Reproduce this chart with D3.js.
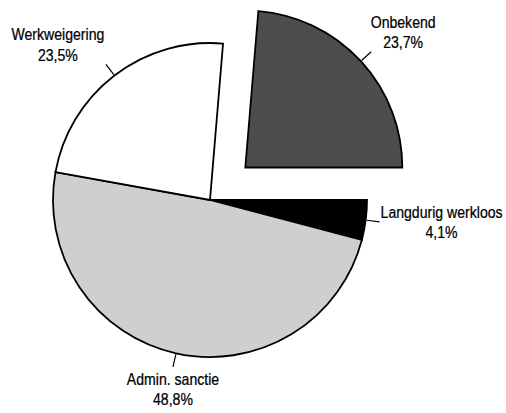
<!DOCTYPE html>
<html>
<head>
<meta charset="utf-8">
<script src="https://cdn.jsdelivr.net/npm/d3@7"></script>
<style>
  html, body { margin: 0; padding: 0; background: #fff; }
  svg { display: block; }
  text { font-family: "Liberation Sans", Arial, sans-serif; font-size: 16px; fill: #000; stroke: #000; stroke-width: 0.25; }
</style>
</head>
<body>
<svg id="chart" width="506" height="413"></svg>
<script>
// ---- data ----
const categories = ["Langdurig werkloos", "Admin. sanctie", "Werkweigering", "Onbekend"];
const values = [4.1, 48.8, 23.5, 23.7];
const valueLabels = ["4,1%", "48,8%", "23,5%", "23,7%"];
const exploded = [false, false, false, true];

// ---- styles / layout ----
const fills = ["#000000", "#cfcfcf", "#ffffff", "#4d4d4d"];
const labelOffsets = [[62, -4], [0, 18], [-48, -24], [32, -24]]; // block centre relative to tick end
const cx = 210, cy = 200, r = 157, explodeDist = 48, tickLen = 13;
const textSqueeze = 0.88;

const svg = d3.select("#chart");
const data = categories.map((c, i) => ({ name: c, value: values[i], label: valueLabels[i], explode: exploded[i], fill: fills[i], off: labelOffsets[i] }));

const pie = d3.pie().sort(null).value(d => d.value)
  .startAngle(Math.PI / 2).endAngle(Math.PI / 2 + 2 * Math.PI);
const arcs = pie(data);
const arc = d3.arc().innerRadius(0).outerRadius(r);

const g = svg.append("g").attr("transform", `translate(${cx},${cy})`);

const slices = g.selectAll("g.slice").data(arcs).join("g")
  .attr("class", "slice")
  .attr("transform", d => {
    if (!d.data.explode) return null;
    const a = (d.startAngle + d.endAngle) / 2;
    return `translate(${explodeDist * Math.sin(a)},${-explodeDist * Math.cos(a)})`;
  });

slices.append("path")
  .attr("d", arc)
  .attr("fill", d => d.data.fill)
  .attr("stroke", "#000")
  .attr("stroke-width", 1.8)
  .attr("stroke-linejoin", "miter");

slices.each(function(d) {
  const a = (d.startAngle + d.endAngle) / 2;
  const s = Math.sin(a), c = -Math.cos(a);
  const sel = d3.select(this);
  const x1 = (r + 1) * s, y1 = (r + 1) * c;
  const x2 = (r + 1 + tickLen) * s, y2 = (r + 1 + tickLen) * c;
  sel.append("line")
    .attr("x1", x1).attr("y1", y1).attr("x2", x2).attr("y2", y2)
    .attr("stroke", "#000").attr("stroke-width", 1.2);
  const lg = sel.append("g")
    .attr("transform", `translate(${x2 + d.data.off[0]},${y2 + d.data.off[1]}) scale(${textSqueeze},1)`);
  const t = lg.append("text").attr("text-anchor", "middle");
  t.append("tspan").attr("x", 0).attr("y", 0).text(d.data.name);
  t.append("tspan").attr("x", 0).attr("dy", 20.5).text(d.data.label);
});
</script>
</body>
</html>
